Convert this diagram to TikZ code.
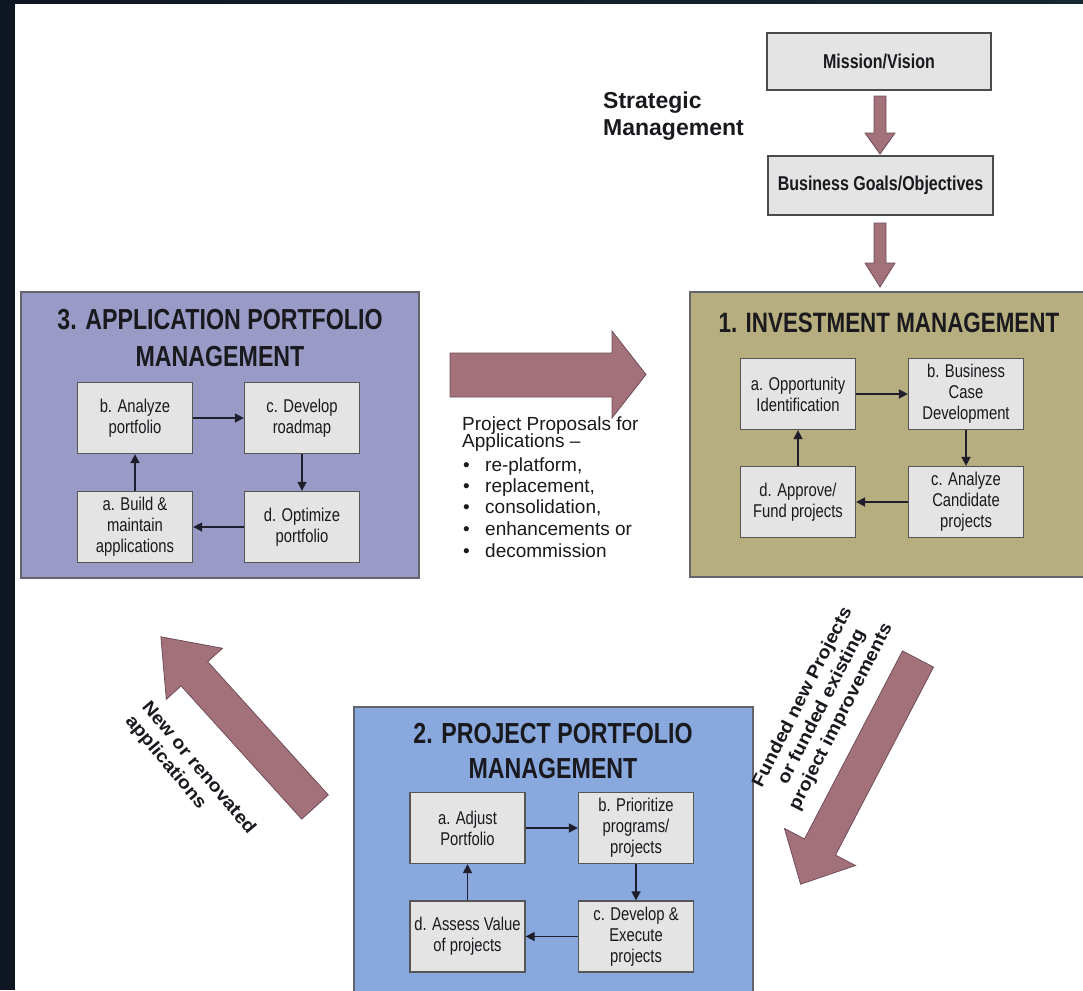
\documentclass[tikz,border=0pt]{standalone}
\usepackage{fontspec}
\setmainfont{Liberation Sans}
\newfontfamily\narrowfont[FakeStretch=0.8]{Liberation Sans}
\newfontfamily\wideboldfont[FakeStretch=1.1]{Liberation Sans}
\usetikzlibrary{arrows.meta}
\definecolor{darkbg}{RGB}{14,22,33}
\definecolor{darkbgr}{RGB}{20,40,48}
\definecolor{apmfill}{RGB}{153,155,198}
\definecolor{imfill}{RGB}{182,174,127}
\definecolor{ppmfill}{RGB}{137,168,222}
\definecolor{innerfill}{RGB}{228,228,228}
\definecolor{innerdraw}{RGB}{85,85,85}
\definecolor{outerdraw}{RGB}{100,100,108}
\definecolor{topdraw}{RGB}{75,75,75}
\definecolor{mauve}{RGB}{163,113,122}
\definecolor{mauvedraw}{RGB}{112,78,88}
\definecolor{txt}{RGB}{25,25,30}
\definecolor{lnk}{RGB}{30,30,45}
\tikzset{
 outerbox/.style={draw=outerdraw, line width=1.5pt, inner sep=0pt},
 inbox/.style={draw=innerdraw, fill=innerfill, line width=1.3pt, inner sep=0pt,
   minimum width=115pt, minimum height=71pt, align=center, text=txt,
   font=\narrowfont\fontsize{18.5}{21}\selectfont},
 titletext/.style={anchor=base, inner sep=0pt, text=txt,
   font=\narrowfont\bfseries\fontsize{29}{35}\selectfont},
 link/.style={draw=lnk, line width=1.6pt, -{Triangle[length=9pt,width=9pt]}},
 blockarrow/.style={fill=mauve, draw=mauvedraw, line width=0.8pt, line join=miter},
 topbox/.style={draw=topdraw, fill=innerfill, line width=2.4pt, inner sep=0pt, text=txt,
   font=\narrowfont\bfseries\fontsize{20}{24}\selectfont},
 plaintext/.style={anchor=base west, inner sep=0pt, text=txt,
   font=\fontsize{19}{21}\selectfont},
 sidelabel/.style={inner sep=0pt, text=txt,
   font=\wideboldfont\bfseries\fontsize{18}{21.5}\selectfont},
}
\begin{document}
\begin{tikzpicture}[x=1pt,y=-1pt]
\useasboundingbox (0,0) rectangle (1083,990);
\fill[darkbg] (0,0) rectangle (1083,990);
\shade[left color=darkbg, right color=darkbgr] (15,0) rectangle (1083,4);
\fill[white] (15,4) rectangle (1083,990);
\begin{scope}
\clip (15,4) rectangle (1083,990);

% ---------- strategic management ----------
\node[topbox, minimum width=224pt, minimum height=57pt] (MV) at (879,61.5) {Mission/Vision};
\node[topbox, minimum width=225pt, minimum height=59pt] (BG) at (880.5,185.5) {Business Goals/Objectives};
\node[plaintext, font=\bfseries\fontsize{23}{27}\selectfont] (SM1) at (603,108) {Strategic};
\node[plaintext, font=\bfseries\fontsize{23}{27}\selectfont] (SM2) at (603,135) {Management};

\draw[blockarrow] (874,96) -- (886,96) -- (886,133) -- (895,133) -- (880,154) -- (865,133) -- (874,133) -- cycle;
\draw[blockarrow] (874,223) -- (886,223) -- (886,263) -- (895,263) -- (880,287) -- (865,263) -- (874,263) -- cycle;

% ---------- 3. application portfolio management ----------
\node[outerbox, fill=apmfill, minimum width=398pt, minimum height=286pt] (APM) at (220,435) {};
\node[titletext] (APMt1) at (220,329) {3. APPLICATION PORTFOLIO};
\node[titletext] (APMt2) at (220,366) {MANAGEMENT};
\node[inbox] (A3b) at (135,418) {b. Analyze\\portfolio};
\node[inbox] (A3c) at (302,418) {c. Develop\\roadmap};
\node[inbox] (A3a) at (135,527) {a. Build \&\\maintain\\applications};
\node[inbox] (A3d) at (302,527) {d. Optimize\\portfolio};
\draw[link] (A3b.east) -- (A3c.west);
\draw[link] (A3c.south) -- (A3d.north);
\draw[link] (A3d.west) -- (A3a.east);
\draw[link] (A3a.north) -- (A3b.south);

% ---------- 1. investment management ----------
\node[outerbox, fill=imfill, minimum width=410pt, minimum height=285pt] (IM) at (895,434.5) {};
\node[titletext, font=\narrowfont\bfseries\fontsize{28}{34}\selectfont] (IMt) at (889,332) {1. INVESTMENT MANAGEMENT};
\node[inbox] (I1a) at (798,394) {a. Opportunity\\Identification};
\node[inbox] (I1b) at (966,394) {b. Business\\Case\\Development};
\node[inbox] (I1d) at (798,502) {d. Approve/\\Fund projects};
\node[inbox] (I1c) at (966,502) {c. Analyze\\Candidate\\projects};
\draw[link] (I1a.east) -- (I1b.west);
\draw[link] (I1b.south) -- (I1c.north);
\draw[link] (I1c.west) -- (I1d.east);
\draw[link] (I1d.north) -- (I1a.south);

% ---------- 2. project portfolio management ----------
\node[outerbox, fill=ppmfill, minimum width=399pt, minimum height=303pt] (PPM) at (553.5,858.5) {};
\node[titletext] (PPMt1) at (553,743) {2. PROJECT PORTFOLIO};
\node[titletext] (PPMt2) at (553,778) {MANAGEMENT};
\node[inbox] (P2a) at (467.5,828) {a. Adjust\\Portfolio};
\node[inbox] (P2b) at (636,828) {b. Prioritize\\programs/\\projects};
\node[inbox] (P2d) at (467.5,936.5) {d. Assess Value\\of projects};
\node[inbox] (P2c) at (636,936.5) {c. Develop \&\\Execute\\projects};
\draw[link] (P2a.east) -- (P2b.west);
\draw[link] (P2b.south) -- (P2c.north);
\draw[link] (P2c.west) -- (P2d.east);
\draw[link] (P2d.north) -- (P2a.south);

% ---------- big arrows between the three processes ----------
\draw[blockarrow] (450,353) -- (612,353) -- (612,331) -- (646,374.5) -- (612,418) -- (612,397) -- (450,397) -- cycle;
\draw[blockarrow] (933.5,667.1) -- (835.5,855.1) -- (855.5,865.5) -- (800.6,884.2) -- (784.5,828.5) -- (804.5,838.9) -- (902.5,650.9) -- cycle;
\draw[blockarrow] (328.3,794.9) -- (207.7,661.7) -- (222.5,648.3) -- (160.9,636.8) -- (166.3,699.3) -- (181.1,685.9) -- (301.7,819.1) -- cycle;

% ---------- labels of the big arrows ----------
\node[plaintext] (pp1) at (462,430) {Project Proposals for};
\node[plaintext] (pp2) at (462,447) {Applications –};
\node[plaintext] (pp3) at (463,471) {\makebox[22pt][l]{\textbullet}re-platform,};
\node[plaintext] (pp4) at (463,492) {\makebox[22pt][l]{\textbullet}replacement,};
\node[plaintext] (pp5) at (463,513) {\makebox[22pt][l]{\textbullet}consolidation,};
\node[plaintext] (pp6) at (463,535) {\makebox[22pt][l]{\textbullet}enhancements or};
\node[plaintext] (pp7) at (463,557) {\makebox[22pt][l]{\textbullet}decommission};

\node[sidelabel, align=center, rotate=63] (funded) at (822,707) {Funded new Projects\\or funded existing\\project improvements};
\node[sidelabel, align=left, rotate=-50] (newapps) at (190,775) {New or renovated\\applications};
\end{scope}
\end{tikzpicture}
\end{document}
